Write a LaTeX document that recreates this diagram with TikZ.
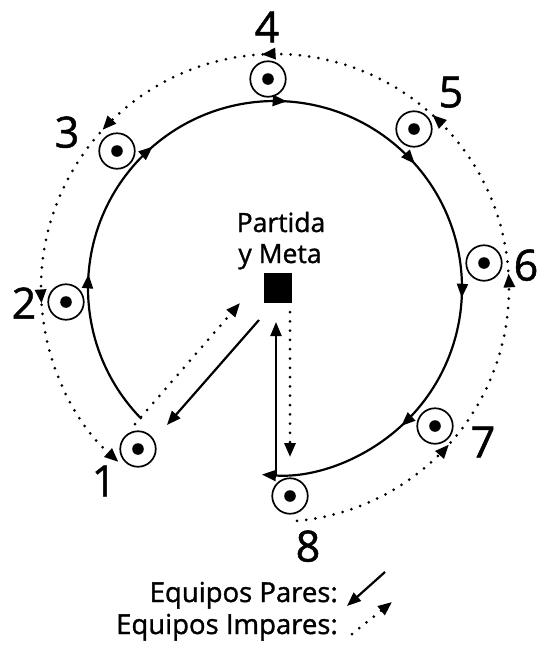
\documentclass[tikz,border=0pt]{standalone}
\usepackage{fontspec}
\setmainfont{Open Sans}[FakeBold=1.2]
\usetikzlibrary{arrows.meta,decorations.markings,calc}
\begin{document}
\begin{tikzpicture}[x=1pt,y=1pt,
  >={Triangle[length=14pt,width=11pt]},
  solidline/.style={line width=2.2pt},
  dotline/.style={line width=3pt, line cap=round, dash pattern=on 0pt off 9.3pt},
  station/.style={circle, draw, line width=1.7pt, minimum size=35.5pt, inner sep=0pt},
  num/.style={font=\fontsize{43}{43}\selectfont, inner sep=0pt, text depth=0pt},
  txt/.style={font=\fontsize{26.5}{26.5}\selectfont, inner sep=0pt},
  legtxt/.style={font=\fontsize{27.5}{27.5}\selectfont, inner sep=0pt},
  goal/.style={fill=black, minimum width=28pt, minimum height=30pt, inner sep=0pt}
]
\useasboundingbox (0,0) rectangle (537,-646);

\coordinate (C) at (275,-288);

% stations
\node[station] (s1) at (138,-449) {};
\node[station] (s2) at (66,-302) {};
\node[station] (s3) at (117,-151) {};
\node[station] (s4) at (268,-79) {};
\node[station] (s5) at (414,-129) {};
\node[station] (s6) at (484,-263) {};
\node[station] (s7) at (435,-426) {};
\node[station] (s8) at (290,-496) {};
\foreach \i in {1,...,8} \fill (s\i.center) circle[radius=5.8pt];

% numbers
\node[num] (n1) at (104,-481) {1};
\node[num] (n2) at (24,-303) {2};
\node[num] (n3) at (67,-132) {3};
\node[num] (n4) at (267,-27) {4};
\node[num] (n5) at (451,-92) {5};
\node[num] (n6) at (526,-265) {6};
\node[num] (n7) at (483,-442) {7};
\node[num] (n8) at (308,-546) {8};

% start / goal
\node[goal] (S) at (278,-288) {};
\node[txt, anchor=base] (t1) at (281,-232) {Partida};
\node[txt, anchor=base] (t2) at (280,-263) {y Meta};

% even teams (solid)
\coordinate (eA) at ($(C)+(224.4:187)$);
\draw[solidline, ->, postaction={decorate}, decoration={markings,
   mark=at position 0.1526 with {\arrow{>}},
   mark=at position 0.2937 with {\arrow{>}},
   mark=at position 0.4334 with {\arrow{>}},
   mark=at position 0.5741 with {\arrow{>}},
   mark=at position 0.7142 with {\arrow{>}},
   mark=at position 0.8540 with {\arrow{>}}}]
   (eA) arc[start angle=224.4, end angle=-94, radius=187];
\coordinate (e1s) at (259,-320);
\coordinate (e1t) at (167,-425);
\draw[solidline, ->] (e1s) -- (e1t);
\coordinate (e8s) at (276,-475);
\coordinate (e8t) at (276,-322);
\draw[solidline, ->] (e8s) -- (e8t);

% odd teams (dotted)
\coordinate (oA) at ($(C)+(-84.6:234)$);
\draw[dotline, ->, postaction={decorate}, decoration={markings,
   mark=at position 0.1363 with {\arrow{>}},
   mark=at position 0.2821 with {\arrow{>}},
   mark=at position 0.4232 with {\arrow{>}},
   mark=at position 0.5691 with {\arrow{>}},
   mark=at position 0.7105 with {\arrow{>}},
   mark=at position 0.8586 with {\arrow{>}}}]
   (oA) arc[start angle=-84.6, end angle=228, radius=234];
\coordinate (o1s) at (135,-424);
\coordinate (o1t) at (240,-303);
\draw[dotline, ->] (o1s) -- (o1t);
\coordinate (o8s) at (290,-312);
\coordinate (o8t) at (290,-457);
\draw[dotline, ->] (o8s) -- (o8t);

% legend
\node[legtxt, anchor=base east] (l1) at (338,-602) {Equipos Pares:};
\node[legtxt, anchor=base east] (l2) at (338,-634) {Equipos Impares:};
\coordinate (lsA) at (385,-572);
\coordinate (lsB) at (347,-606);
\draw[solidline, ->] (lsA) -- (lsB);
\coordinate (ldA) at (352,-634);
\coordinate (ldB) at (392,-602);
\draw[dotline, ->] (ldA) -- (ldB);
\end{tikzpicture}
\end{document}
